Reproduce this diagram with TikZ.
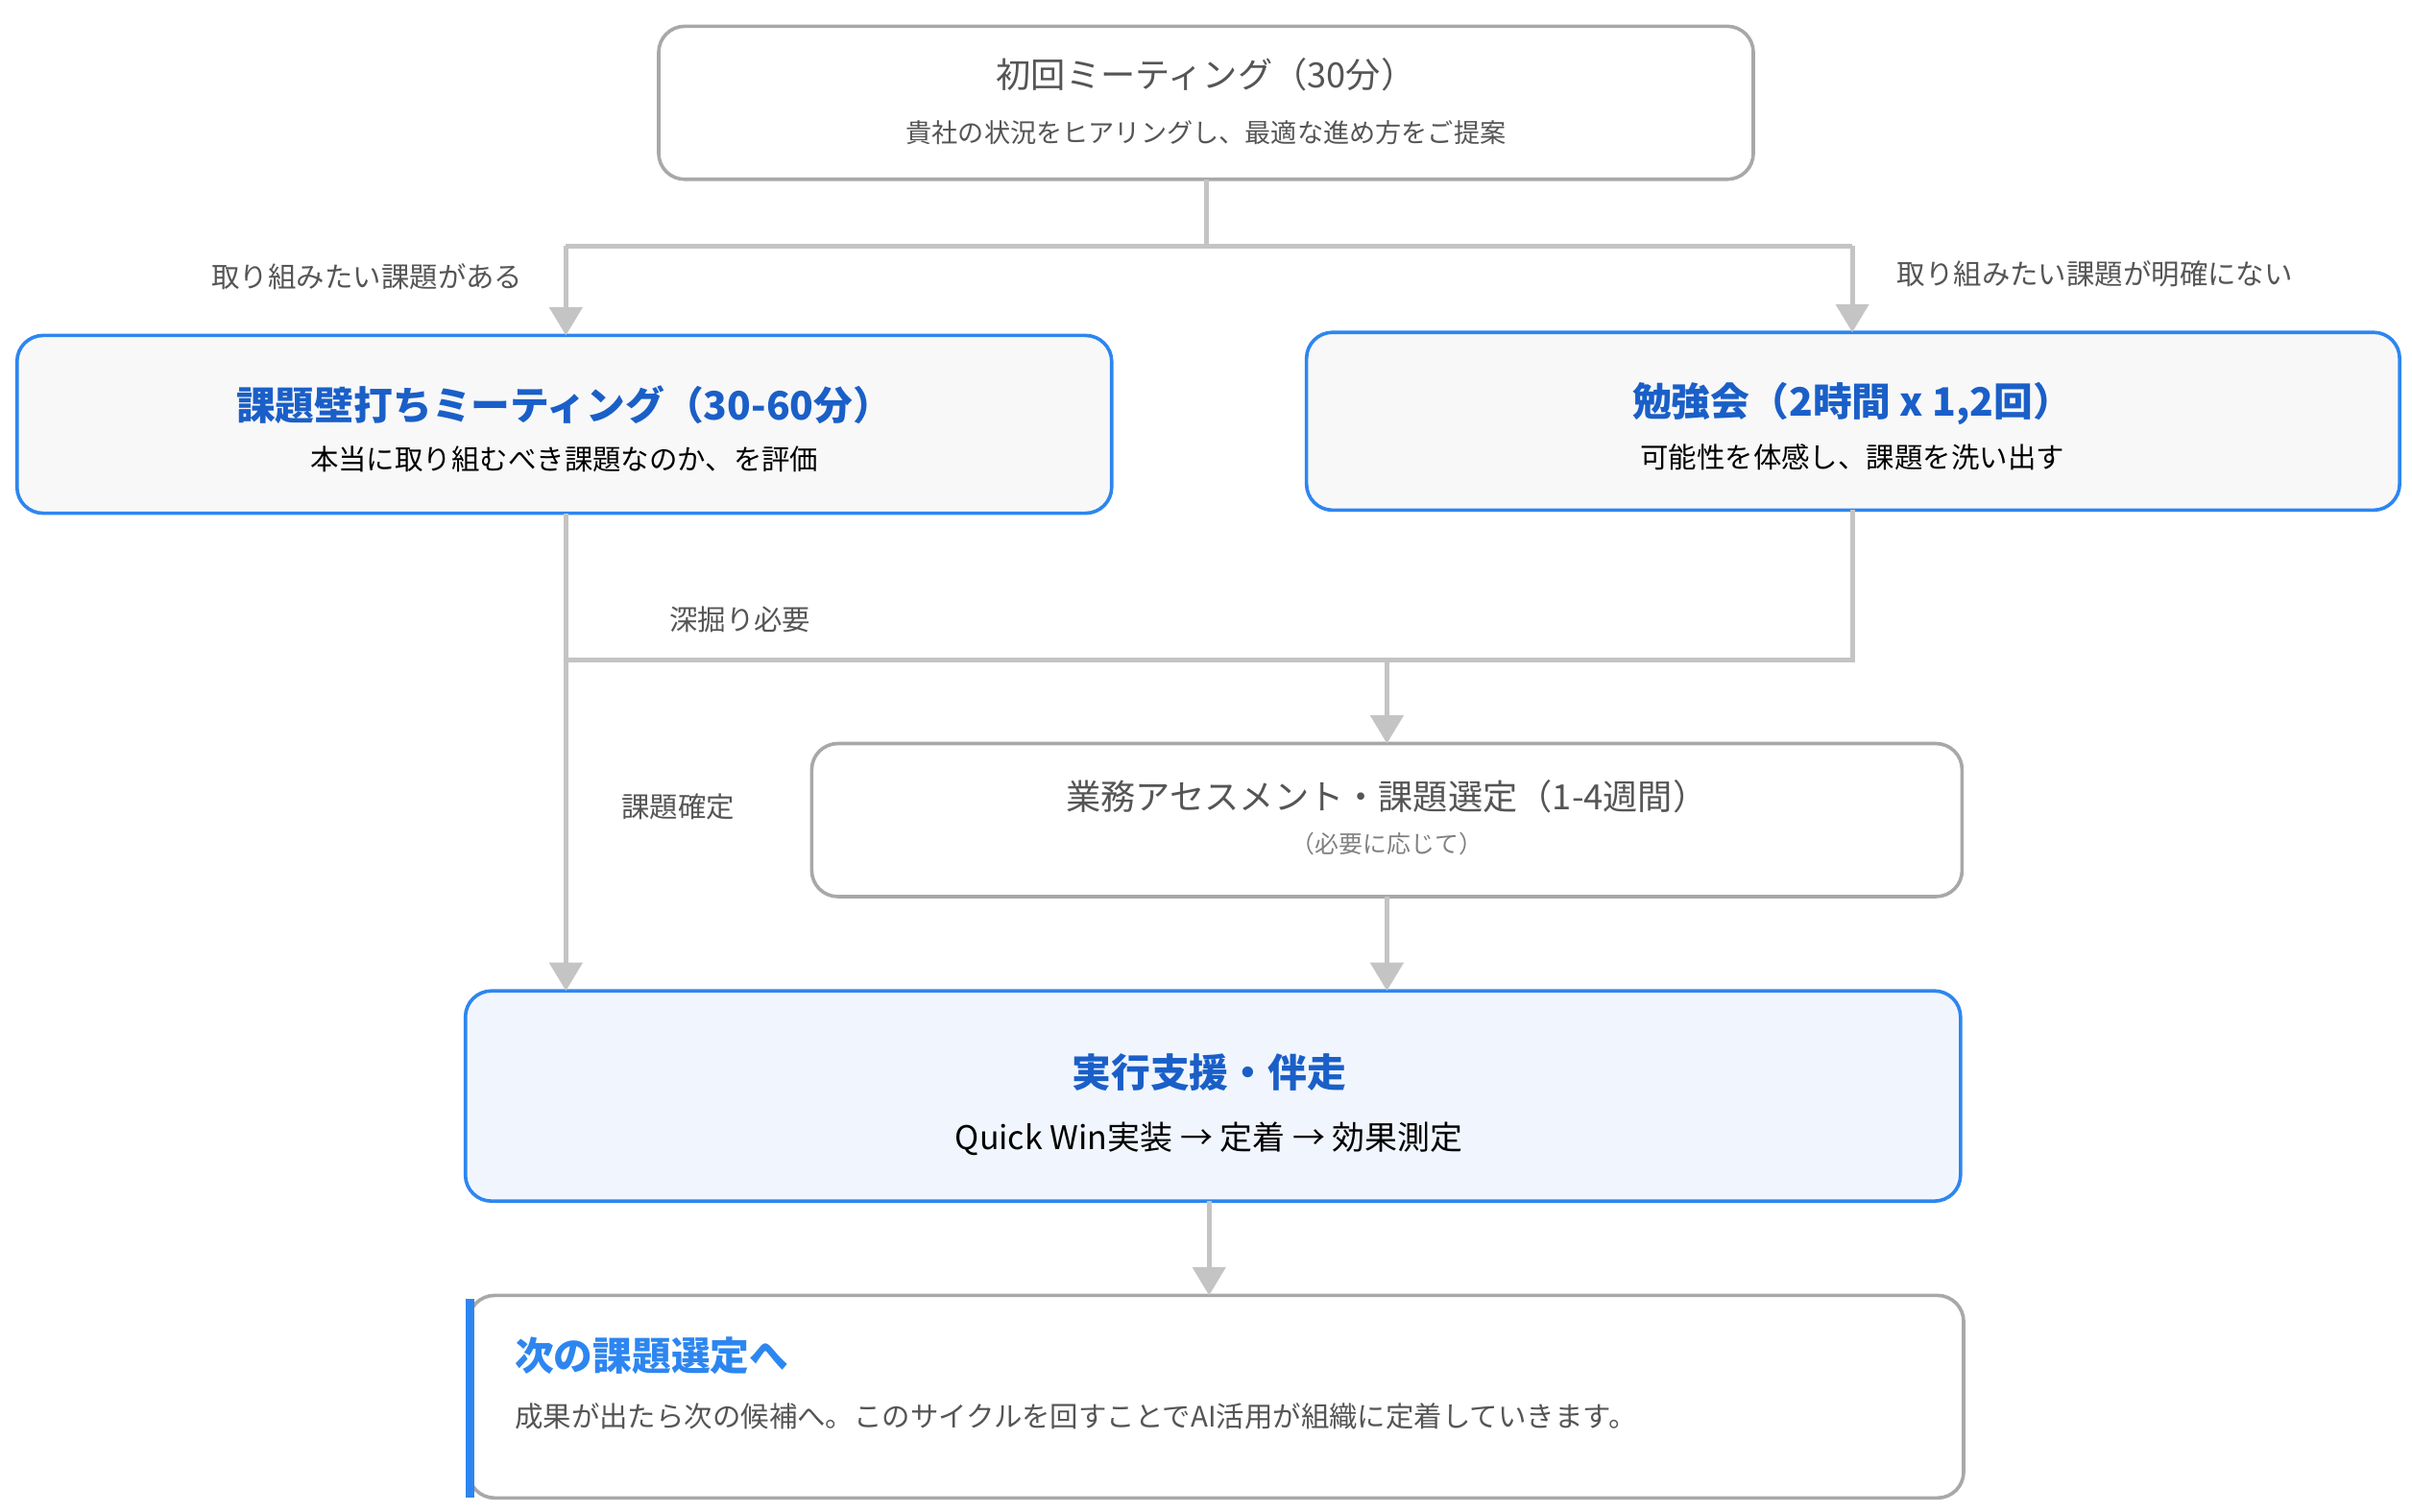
\documentclass[tikz,border=0pt]{standalone}
\usepackage{fontspec}
\setmainfont{Noto Sans CJK JP}
\usetikzlibrary{arrows.meta,positioning,calc}
\definecolor{linegray}{HTML}{C4C4C4}
\definecolor{boxgray}{HTML}{A8A8A8}
\definecolor{txtgray}{HTML}{555555}
\definecolor{bblue}{HTML}{2D86F0}
\definecolor{tblue}{HTML}{1A5FC8}
\definecolor{fillgray}{HTML}{F8F8F8}
\definecolor{fillblue}{HTML}{F1F6FE}
\tikzset{
  box/.style={draw=boxgray,line width=1.6pt,rounded corners=12pt,fill=white},
  bluebox/.style={draw=bblue,line width=1.6pt,rounded corners=12pt,fill=fillgray},
  conn/.style={draw=linegray,line width=2.2pt},
  arr/.style={conn,-{Triangle[width=15pt,length=13pt]}},
  lbl/.style={text=txtgray,font=\fontsize{13}{15}\selectfont},
}
\begin{document}
\begin{tikzpicture}[x=0.025cm,y=-0.025cm]
\useasboundingbox (0,0) rectangle (1560,978);
% boxes
\draw[box] (426,17) rectangle (1134,116);
\draw[bluebox] (11,217) rectangle (719,332);
\draw[bluebox] (845,215) rectangle (1552,330);
\draw[box] (525,481) rectangle (1269,580);
\draw[bluebox,fill=fillblue] (301,641) rectangle (1268,777);
\draw[box] (303,838) rectangle (1270,969);
\fill[bblue] (301,840) rectangle (307,969);
% box texts
\node[text=txtgray,font=\fontsize{16}{18}\selectfont] (t1) at (780,48) {初回ミーティング（30分）};
\node[text=txtgray,font=\fontsize{12}{14}\selectfont] (s1) at (780,86) {貴社の状況をヒアリングし、最適な進め方をご提案};
\node[text=tblue,font=\bfseries\fontsize{18}{20}\selectfont] (t2) at (365,262) {課題壁打ちミーティング（30-60分）};
\node[font=\fontsize{13}{15}\selectfont] (s2) at (365,297) {本当に取り組むべき課題なのか、を評価};
\node[text=tblue,font=\bfseries\fontsize{18}{20}\selectfont] (t3) at (1198,261) {勉強会（2時間 x 1,2回）};
\node[font=\fontsize{13}{15}\selectfont] (s3) at (1198,296) {可能性を体感し、課題を洗い出す};
\node[text=txtgray,font=\fontsize{16}{18}\selectfont] (t4) at (897,515) {業務アセスメント・課題選定（1-4週間）};
\node[text=gray,font=\fontsize{11}{13}\selectfont] (s4) at (897,546) {（必要に応じて）};
\node[text=tblue,font=\bfseries\fontsize{18}{20}\selectfont] (t5) at (782,694) {実行支援・伴走};
\node[font=\fontsize{15}{17}\selectfont] (s5) at (782,737) {Quick Win実装 → 定着 → 効果測定};
\node[text=bblue,font=\bfseries\fontsize{18}{20}\selectfont,anchor=west] (t6) at (328,877) {次の課題選定へ};
\node[text=txtgray,font=\fontsize{13}{15}\selectfont,anchor=west] (s6) at (328,916) {成果が出たら次の候補へ。このサイクルを回すことでAI活用が組織に定着していきます。};
% junction points
\coordinate (top) at (780,116);
\coordinate (j1) at (780,159);
\coordinate (jl) at (366,159);
\coordinate (jr) at (1198,159);
\coordinate (lin) at (366,217);
\coordinate (rin) at (1198,215);
\coordinate (lout) at (366,332);
\coordinate (rout) at (1198,330);
\coordinate (rj) at (1198,427);
\coordinate (lj) at (366,427);
\coordinate (mj) at (897,427);
\coordinate (ain) at (897,481);
\coordinate (aout) at (897,580);
\coordinate (ein) at (897,641);
\coordinate (lend) at (366,641);
\coordinate (eout) at (782,777);
\coordinate (nin) at (782,838);
% connectors
\draw[conn] (top) -- (j1) -| (jl);
\draw[conn] (j1) -| (jr);
\draw[arr] (jl) -- (lin);
\draw[arr] (jr) -- (rin);
\draw[arr] (lout) -- (lend);
\draw[conn] (rout) -- (rj) -- (lj);
\draw[arr] (mj) -- (ain);
\draw[arr] (aout) -- (ein);
\draw[arr] (eout) -- (nin);
% connector labels
\node[lbl,anchor=east] (l1) at (343,179) {取り組みたい課題がある};
\node[lbl,anchor=west] (l2) at (1222,177) {取り組みたい課題が明確にない};
\node[lbl,anchor=west] (l3) at (428,401) {深掘り必要};
\node[lbl,anchor=west] (l4) at (397,522) {課題確定};
\end{tikzpicture}
\end{document}
